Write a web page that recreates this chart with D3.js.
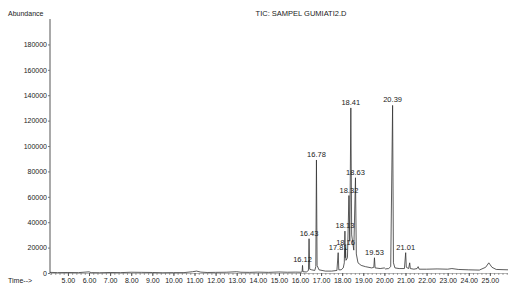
<!DOCTYPE html>
<meta charset="utf-8">
<html>
<script src="https://d3js.org/d3.v7.min.js"></script>
<style>
  body { margin: 0; background: #fff; }
  text { font-family: "Liberation Sans", Arial, sans-serif; fill: #222; }
</style>
<body>
<div id="chart"></div>
<script>

// chromatogram trace: retention time (min), abundance
const traceTime = [4.15, 4.5, 5.0, 5.5, 6.0, 6.1, 6.5, 7.0, 7.5, 8.0, 8.5, 9.0, 9.5, 10.0, 10.5,
  10.9, 11.1, 11.3, 11.6, 12.0, 12.5, 13.0, 13.2, 13.6, 14.0, 14.5, 15.0, 15.4, 15.8,
  16.05, 16.10, 16.12, 16.14, 16.30, 16.40, 16.43, 16.46, 16.55, 16.70, 16.75, 16.78, 16.81,
  16.90, 17.2, 17.5, 17.75, 17.81, 17.84, 17.95, 18.05, 18.10, 18.13, 18.145, 18.16, 18.18,
  18.25, 18.32, 18.36, 18.41, 18.45, 18.55, 18.63, 18.67, 18.75, 18.9, 19.1, 19.4, 19.50,
  19.53, 19.56, 19.8, 20.0, 20.05, 20.2, 20.30, 20.39, 20.43, 20.5, 20.7, 20.95, 21.01,
  21.04, 21.15, 21.20, 21.23, 21.4, 21.55, 21.60, 21.65, 22.0, 22.5, 23.0, 23.2, 23.5,
  24.0, 24.5, 24.8, 24.95, 25.1, 25.3, 25.86];
const traceAbund = [500, 300, 400, 300, 900, 300, 200, 400, 300, 600, 500, 400, 200, 300, 300,
  1000, 1500, 700, 400, 500, 600, 1000, 600, 500, 700, 500, 800, 600, 700,
  600, 1000, 6000, 1000, 800, 2000, 27000, 3000, 2500, 2000, 5000, 89000, 6000,
  2500, 1500, 1500, 2000, 16000, 2500, 2500, 4000, 8000, 33000, 12000, 20000, 10000,
  12000, 61000, 25000, 130000, 30000, 18000, 75000, 15000, 8000, 6000, 5000, 4000, 4500,
  12000, 4000, 3500, 4000, 3200, 3500, 5000, 132000, 8000, 4000, 3500, 3500, 16000,
  4500, 3500, 8000, 3500, 3000, 3500, 5000, 3000, 3000, 3200, 3000, 3500, 2800,
  2500, 2300, 4500, 8000, 4500, 2800, 2500];

// labelled peaks
const peakLabels = ["16.12", "16.43", "16.78", "17.81", "18.13", "18.16", "18.32", "18.41", "18.63", "19.53", "20.39", "21.01"];

const xTicks = [5, 6, 7, 8, 9, 10, 11, 12, 13, 14, 15, 16, 17, 18, 19, 20, 21, 22, 23, 24, 25];
const yTicks = [0, 20000, 40000, 60000, 80000, 100000, 120000, 140000, 160000, 180000];

const trace = traceTime.map((t, i) => ({t: t, a: traceAbund[i]}));

const width = 508, height = 285;

const svg = d3.select("#chart")
  .append("svg")
    .attr("width", width)
    .attr("height", height);

const x = d3.scaleLinear()
  .domain([4.15, 25.86])
  .range([50, 508]);

const y = d3.scaleLinear()
  .domain([0, 215000])
  .range([273, 0]);

// y axis
const yAxis = svg.append("g")
  .attr("transform", "translate(50,0)")
  .call(d3.axisLeft(y).tickValues(yTicks).tickSize(2).tickPadding(1).tickFormat(d3.format("d")));
yAxis.select(".domain").attr("d", `M0,${y(0)}V${y(200000)}`).attr("stroke", "#555");
yAxis.selectAll(".tick line").attr("stroke", "#777");
yAxis.selectAll("text").style("font-size", "7px").attr("fill", "#222");

// x axis, minor ticks every 0.2 min
const minor = d3.range(4.2, 25.81, 0.2);
svg.append("g")
  .attr("transform", `translate(0,${y(0)})`)
  .call(d3.axisBottom(x).tickValues(minor).tickSize(2).tickFormat(""))
  .call(g => g.select(".domain").attr("stroke", "#888").attr("stroke-width", 0.6))
  .call(g => g.selectAll(".tick line").attr("stroke", "#666").attr("stroke-width", 0.6));

const xAxis = svg.append("g")
  .attr("transform", `translate(0,${y(0)})`)
  .call(d3.axisBottom(x).tickValues(xTicks).tickSize(3).tickPadding(2).tickFormat(d3.format(".2f")));
xAxis.select(".domain").remove();
xAxis.selectAll(".tick line").attr("stroke", "#555");
xAxis.selectAll("text").style("font-size", "7px").attr("fill", "#222");

// the trace
const line = d3.line()
  .x(d => x(d.t))
  .y(d => y(d.a));

svg.append("path")
  .datum(trace)
  .attr("fill", "none")
  .attr("stroke", "#333")
  .attr("stroke-width", 0.8)
  .attr("d", line);

// peak labels
svg.selectAll(".plabel")
  .data(peakLabels)
  .join("text")
    .attr("class", "plabel")
    .attr("x", d => x(+d))
    .attr("y", d => y(trace.find(p => Math.abs(p.t - +d) < 0.001).a) - 3)
    .attr("text-anchor", "middle")
    .style("font-size", "7.5px")
    .text(d => d);

// titles
svg.append("text")
  .attr("x", 8).attr("y", 16)
  .style("font-size", "7px")
  .text("Abundance");

svg.append("text")
  .attr("x", 301).attr("y", 16)
  .attr("text-anchor", "middle")
  .style("font-size", "7.5px")
  .text("TIC: SAMPEL GUMIATI2.D");

svg.append("text")
  .attr("x", 8).attr("y", 283)
  .style("font-size", "7px")
  .text("Time-->");

</script>
</body>
</html>
